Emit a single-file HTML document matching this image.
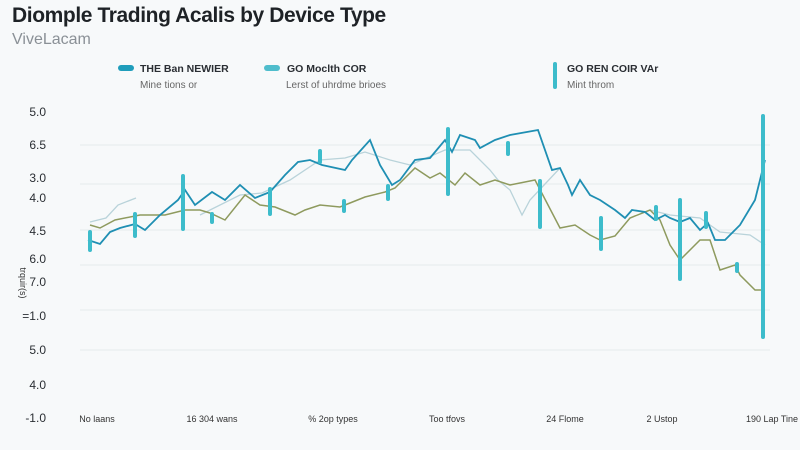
<!DOCTYPE html>
<html><head><meta charset="utf-8"><style>
body{margin:0;width:800px;height:445px;background:#f7f9fa;overflow:hidden;font-family:"Liberation Sans",sans-serif}
</style></head><body>
<svg width="800" height="445" viewBox="0 0 800 445" xmlns="http://www.w3.org/2000/svg" font-family="Liberation Sans, sans-serif">
<rect width="800" height="445" fill="#f7f9fa"/>
<text x="12" y="22" font-size="21" font-weight="bold" fill="#1e2226" letter-spacing="-0.4">Diomple Trading Acalis by Device Type</text>
<text x="12" y="44" font-size="16" fill="#8a9096">ViveLacam</text>
<rect x="118" y="65" width="16" height="6" rx="3" fill="#1f9dbb"/>
<text x="140" y="72" font-size="10.5" font-weight="bold" fill="#2a2e33">THE Ban NEWIER</text>
<text x="140" y="88" font-size="10" fill="#666">Mine tions or</text>
<rect x="264" y="65" width="16" height="6" rx="3" fill="#4fbdcc"/>
<text x="287" y="72" font-size="10.5" font-weight="bold" fill="#2a2e33">GO Moclth COR</text>
<text x="286" y="88" font-size="10" fill="#666">Lerst of uhrdme brioes</text>
<rect x="553" y="62" width="4" height="27" rx="2" fill="#3dbccb"/>
<text x="567" y="72" font-size="10.5" font-weight="bold" fill="#2a2e33">GO REN COIR VAr</text>
<text x="567" y="88" font-size="10" fill="#666">Mint throm</text>
<g stroke="#e6eaec" stroke-width="1">
<line x1="80" y1="145" x2="770" y2="145"/><line x1="80" y1="184" x2="770" y2="184"/>
<line x1="80" y1="230" x2="770" y2="230"/><line x1="80" y1="265" x2="770" y2="265"/>
<line x1="80" y1="310" x2="770" y2="310"/><line x1="80" y1="350" x2="770" y2="350"/>
</g>
<g font-size="12" fill="#2a2e33" text-anchor="end">
<text x="46" y="116">5.0</text><text x="46" y="149">6.5</text>
<text x="46" y="182">3.0</text><text x="46" y="202">4.0</text>
<text x="46" y="235">4.5</text><text x="46" y="263">6.0</text>
<text x="46" y="286">7.0</text><text x="46" y="320">=1.0</text>
<text x="46" y="354">5.0</text><text x="46" y="389">4.0</text>
<text x="46" y="422">-1.0</text>
</g>
<text transform="translate(20,283) rotate(90)" font-size="9" fill="#333" text-anchor="middle">trquir(s)</text>
<g font-size="9" fill="#333" text-anchor="middle">
<text x="97" y="422">No laans</text><text x="212" y="422">16 304 wans</text>
<text x="333" y="422">% 2op types</text><text x="447" y="422">Too tfovs</text>
<text x="565" y="422">24 Flome</text><text x="662" y="422">2 Ustop</text>
<text x="772" y="422">190 Lap Tine</text>
</g>
<polyline fill="none" stroke="#b9d3da" stroke-width="1.3" points="90,222 106,218 118,205 136,198"/>
<polyline fill="none" stroke="#b9d3da" stroke-width="1.3" points="200,215 240,195 262,193 290,180 320,160 345,158 365,152 390,160 410,165 445,150 470,150 490,170 498,180 510,190 522,215 530,200 560,168"/>
<polyline fill="none" stroke="#b9d3da" stroke-width="1.3" points="650,210 670,215 700,218 720,232 750,235 765,245"/>
<polyline fill="none" stroke="#8e9a5e" stroke-width="1.5" points="90,225 100,228 115,220 140,215 165,215 185,210 200,210 210,213 225,220 245,195 260,205 275,207 295,215 305,210 320,205 340,207 350,203 365,197 385,192 395,188 415,168 430,178 440,173 455,185 465,173 480,185 495,180 510,185 535,180 560,228 575,225 590,235 600,240 615,236 630,218 650,210 660,220 670,245 680,260 700,240 710,240 720,270 735,265 740,275 755,290 765,290"/>
<polyline fill="none" stroke="#1f8fb3" stroke-width="1.8" points="88,240 100,244 110,232 120,228 135,224 145,230 160,215 178,200 185,190 195,205 212,192 225,200 240,185 255,198 270,192 285,175 298,162 310,160 322,165 345,170 352,160 370,140 380,165 392,185 400,180 415,160 430,158 445,140 452,152 460,135 475,140 480,148 495,140 510,135 538,130 552,170 560,168 568,185 572,195 580,180 590,195 600,200 615,210 625,218 632,210 645,212 655,220 665,215 670,218 680,222 690,218 700,230 708,223 715,240 725,240 740,225 755,200 765,160"/>
<g stroke="#3dbccb" stroke-width="4" stroke-linecap="round">
<line x1="90" y1="232" x2="90" y2="250"/><line x1="135" y1="214" x2="135" y2="236"/>
<line x1="183" y1="176" x2="183" y2="229"/><line x1="212" y1="214" x2="212" y2="222"/>
<line x1="270" y1="189" x2="270" y2="214"/><line x1="320" y1="151" x2="320" y2="162"/>
<line x1="344" y1="201" x2="344" y2="211"/><line x1="388" y1="186" x2="388" y2="199"/>
<line x1="448" y1="129" x2="448" y2="194"/><line x1="508" y1="143" x2="508" y2="154"/>
<line x1="540" y1="181" x2="540" y2="227"/><line x1="601" y1="218" x2="601" y2="249"/>
<line x1="656" y1="207" x2="656" y2="219"/><line x1="680" y1="200" x2="680" y2="279"/>
<line x1="706" y1="213" x2="706" y2="227"/><line x1="737" y1="264" x2="737" y2="271"/>
<line x1="763" y1="116" x2="763" y2="337"/>
</g>
</svg>
</body></html>
